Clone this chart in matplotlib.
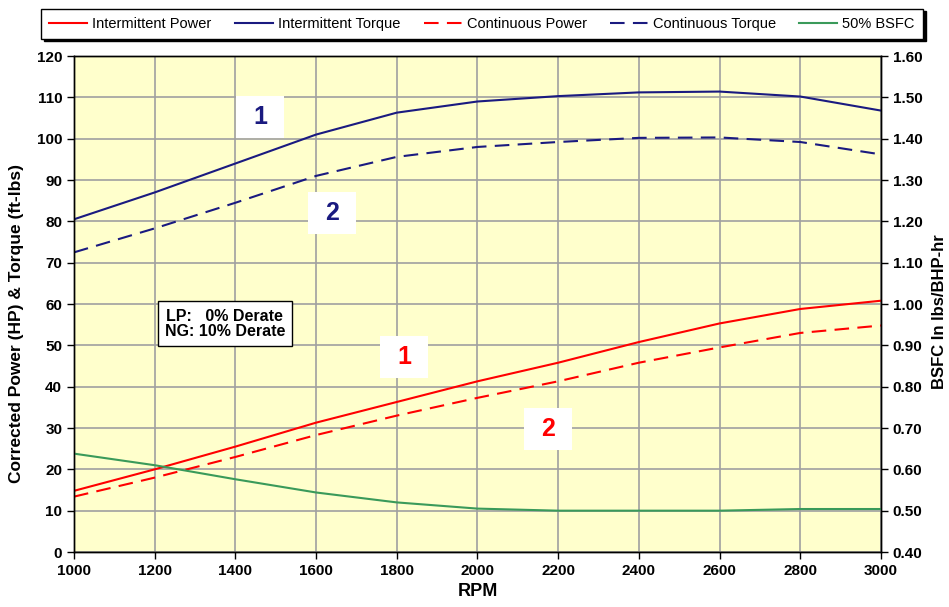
import matplotlib
matplotlib.use("Agg")
from matplotlib import pyplot as plt
from matplotlib.patches import Rectangle

plt.rcParams['font.family'] = ['Liberation Sans', 'DejaVu Sans']

rpm = [1000, 1200, 1400, 1600, 1800, 2000, 2200, 2400, 2600, 2800, 3000]
int_power = [14.8, 20.0, 25.5, 31.3, 36.3, 41.3, 45.8, 50.8, 55.3, 58.8, 60.8]
int_torque = [80.5, 87.0, 94.0, 101.0, 106.3, 109.0, 110.3, 111.2, 111.4, 110.2, 106.8]
cont_power = [13.4, 18.0, 23.0, 28.3, 33.0, 37.3, 41.3, 45.8, 49.5, 53.0, 54.8]
cont_torque = [72.5, 78.3, 84.5, 91.0, 95.6, 98.0, 99.2, 100.2, 100.3, 99.2, 96.2]
bsfc = [0.638, 0.610, 0.576, 0.544, 0.520, 0.505, 0.500, 0.500, 0.500, 0.504, 0.504]

red = '#ff0000'
navy = '#1a1a80'
green = '#3a9a5a'

fig = plt.figure(figsize=(9.49, 6.07), dpi=100)
ax = fig.add_axes([0.078, 0.0906, 0.8503, 0.8171])
ax.set_facecolor('#ffffcc')

l1, = ax.plot(rpm, int_power, color=red, lw=1.5, label='Intermittent Power')
l2, = ax.plot(rpm, int_torque, color=navy, lw=1.5, label='Intermittent Torque')
l3, = ax.plot(rpm, cont_power, color=red, lw=1.5, ls=(0, (7, 4)), label='Continuous Power')
l4, = ax.plot(rpm, cont_torque, color=navy, lw=1.5, ls=(0, (7, 4)), label='Continuous Torque')

ax2 = ax.twinx()
l5, = ax2.plot(rpm, bsfc, color=green, lw=1.5, label='50% BSFC')

ax.set_xlim(1000, 3000)
ax.set_ylim(0, 120)
ax2.set_ylim(0.4, 1.6)
ax.set_xticks(range(1000, 3001, 200))
ax.set_yticks(range(0, 121, 10))
ax2.set_yticks([0.4 + 0.1 * i for i in range(13)])
ax2.set_yticklabels(['%.2f' % (0.4 + 0.1 * i) for i in range(13)])
ax.grid(True, color='#a0a0a0', lw=1.2)
ax.set_axisbelow(True)

for a in (ax, ax2):
    for lab in a.get_xticklabels() + a.get_yticklabels():
        lab.set_fontweight('bold')
        lab.set_fontsize(11)
    a.tick_params(direction='out', length=5, width=1)
    for s in a.spines.values():
        s.set_linewidth(1)

ax.set_xlabel('RPM', fontsize=13, fontweight='bold', labelpad=4)
ax.set_ylabel('Corrected Power (HP) & Torque (ft-lbs)', fontsize=12.5, fontweight='bold')
ax.yaxis.set_label_coords(-0.062, 0.46)
ax2.set_ylabel('BSFC In lbs/BHP-hr', fontsize=12, fontweight='bold')
ax2.yaxis.set_label_coords(1.063, 0.485)

# curve numbers in white boxes
def tag(x, y, s, c):
    ax.add_patch(Rectangle((x - 60, y - 5.1), 120, 10.2, facecolor='white',
                           edgecolor='none', zorder=3))
    ax.text(x, y, s, color=c, fontsize=18, fontweight='bold',
            ha='center', va='center', zorder=4)

tag(1461, 105.2, '1', navy)
tag(1639, 82.0, '2', navy)
tag(1818, 47.2, '1', red)
tag(2175, 29.8, '2', red)

ax.text(1374, 55.2, 'LP:   0% Derate\nNG: 10% Derate', fontsize=11.5, fontweight='bold',
        ha='center', va='center', linespacing=1.05, zorder=4,
        bbox=dict(facecolor='white', edgecolor='black', lw=1,
                  boxstyle='square,pad=0.45'))

leg = fig.legend(handles=[l1, l2, l3, l4, l5], loc='center', ncol=5,
                 bbox_to_anchor=(0.508, 0.961), fontsize=10.5, frameon=True,
                 fancybox=False, shadow={'color': 'black', 'alpha': 1},
                 handlelength=2.6, columnspacing=1.6,
                 borderpad=0.55, handletextpad=0.35)
leg.get_frame().set_edgecolor('black')
leg.get_frame().set_linewidth(1)

fig.savefig('out.png', dpi=100)
